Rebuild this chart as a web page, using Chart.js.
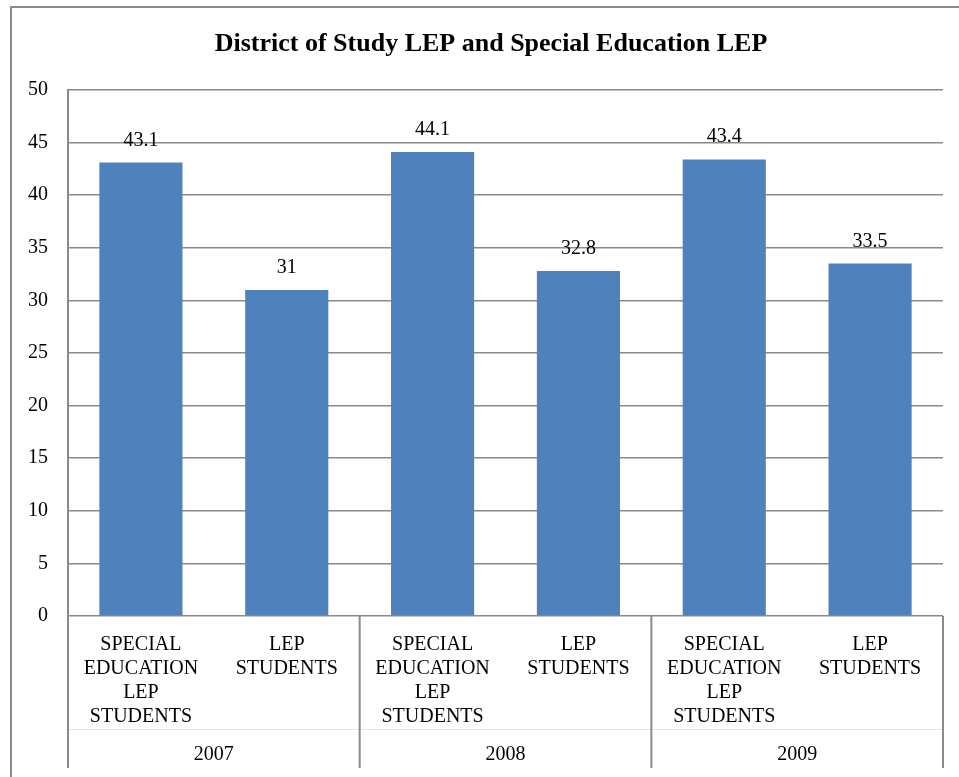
<!DOCTYPE html>
<html>
<head>
<meta charset="utf-8">
<title>District of Study LEP and Special Education LEP</title>
<script src="https://cdn.jsdelivr.net/npm/chart.js@4"></script>
<style>
  html, body { margin: 0; padding: 0; background: #fff; overflow: hidden; }
  #wrap { width: 959px; height: 777px; position: relative; }
</style>
</head>
<body>
<div id="wrap"><canvas id="mycanvas" width="959" height="777"></canvas></div>
<script>
var years = ['2007', '2008', '2009'];
var groupLabels = [['SPECIAL', 'EDUCATION', 'LEP', 'STUDENTS'], ['LEP', 'STUDENTS']];
var percents = [43.1, 31, 44.1, 32.8, 43.4, 33.5];
var yTicks = { min: 0, max: 50, step: 5 };

var serif = '"Liberation Serif", "Times New Roman", serif';
var lineGray = '#8a8a8a';

// one label per bar: the two groups repeated for each year
var labels = [];
for (var i = 0; i < years.length; i++) {
  for (var j = 0; j < groupLabels.length; j++) {
    labels.push(groupLabels[j]);
  }
}

// frame, value labels, year row and its separators
var extras = {
  id: 'extras',
  afterLayout: function(chart) {
    // centre the title on the framed box rather than the canvas
    if (chart.titleBlock) chart.titleBlock.left = 39;
  },
  beforeDraw: function(chart) {
    var ctx = chart.ctx;
    ctx.save();
    ctx.strokeStyle = lineGray;
    ctx.lineWidth = 2;
    ctx.beginPath();
    ctx.moveTo(11, 800);
    ctx.lineTo(11, 7);
    ctx.lineTo(990, 7);
    ctx.stroke();
    ctx.restore();
  },
  afterDraw: function(chart) {
    var ctx = chart.ctx;
    var x = chart.scales.x;
    var area = chart.chartArea;
    var meta = chart.getDatasetMeta(0);

    ctx.save();
    ctx.fillStyle = '#000';
    ctx.font = '20px ' + serif;
    ctx.textAlign = 'center';
    ctx.textBaseline = 'alphabetic';
    meta.data.forEach(function(bar, k) {
      ctx.fillText(String(percents[k]), bar.x, bar.y - 17);
    });

    var per = groupLabels.length;
    var bottom = 768;
    var edges = [x.left];
    for (var g = 1; g < years.length; g++) {
      var a = x.getPixelForValue(g * per - 1);
      var b = x.getPixelForValue(g * per);
      edges.push((a + b) / 2);
    }
    edges.push(x.right);

    // faint rule between the bar labels and the year row
    ctx.strokeStyle = '#e6e6e6';
    ctx.lineWidth = 1;
    ctx.beginPath();
    ctx.moveTo(x.left, 729.5);
    ctx.lineTo(x.right, 729.5);
    ctx.stroke();

    ctx.strokeStyle = lineGray;
    ctx.lineWidth = 2;
    edges.forEach(function(ex) {
      ctx.beginPath();
      ctx.moveTo(ex, area.bottom);
      ctx.lineTo(ex, bottom);
      ctx.stroke();
    });

    ctx.textBaseline = 'middle';
    for (var y = 0; y < years.length; y++) {
      ctx.fillText(years[y], (edges[y] + edges[y + 1]) / 2, 755);
    }
    ctx.restore();
  }
};

var ctx = document.getElementById('mycanvas');
var barGraph = new Chart(ctx, {
  type: 'bar',
  data: {
    labels: labels,
    datasets: [{
      label: 'Percent',
      data: percents,
      backgroundColor: '#4f81bd',
      borderWidth: 0,
      barPercentage: 0.57,
      categoryPercentage: 1
    }]
  },
  options: {
    responsive: false,
    animation: false,
    layout: { padding: { left: 11, right: 16, top: 0, bottom: 0 } },
    plugins: {
      legend: { display: false },
      tooltip: { enabled: false },
      title: {
        display: true,
        text: 'District of Study LEP and Special Education LEP',
        color: '#000',
        font: { family: serif, size: 26, weight: 'bold', lineHeight: 1.2 },
        padding: { top: 28.4, bottom: 30.4 }
      }
    },
    scales: {
      x: {
        offset: true,
        grid: { display: false, drawTicks: false },
        border: { display: false },
        ticks: {
          color: '#000',
          padding: 17,
          maxRotation: 0,
          autoSkip: false,
          font: { family: serif, size: 20, lineHeight: 1.2 }
        },
        afterFit: function(scale) { scale.height = 161; }
      },
      y: {
        min: yTicks.min,
        max: yTicks.max,
        grid: { color: lineGray, lineWidth: 1.5, drawTicks: false },
        border: { display: true, color: lineGray, width: 2 },
        ticks: {
          stepSize: yTicks.step,
          color: '#000',
          padding: 20,
          font: { family: serif, size: 20 }
        },
        afterFit: function(scale) { scale.width = 57; }
      }
    }
  },
  plugins: [extras]
});
</script>
</body>
</html>
